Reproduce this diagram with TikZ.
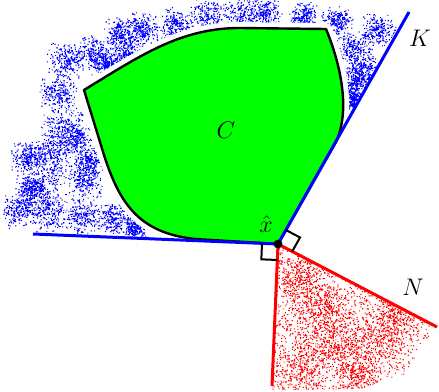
\documentclass[tikz,border=0pt]{standalone}
\usetikzlibrary{calc}

\definecolor{conjunto}{rgb}{0,1,0}
\definecolor{cone}{rgb}{0,0,1}
\definecolor{normal}{rgb}{1,0,0}

\begin{document}
\begin{tikzpicture}[x=0.5pt,y=-0.5pt]
        \useasboundingbox (0,0) rectangle (439,391);
        \pgfmathsetseed{42}

        \coordinate (xh) at (278,244);
        \coordinate (Kesq) at (33,234);
        \coordinate (Kdir) at (409,12);
        \coordinate (Nbaixo) at (272,386);
        \coordinate (Ndir) at (437,327);

        % pontos de K
        \begin{scope}
            \clip (xh) -- (0,232.7) -- (0,0) -- (415.8,0) -- cycle;
            \foreach \cx/\cy/\r in {65/60/14, 93/53/14, 105/62/11, 120/33/12, 128/53/13, 143/28/12,
                    175/25/13, 207/18/14, 240/17/14, 265/13/13, 303/17/11, 337/23/12, 378/30/13,
                    355/50/14, 355/83/12, 362/70/12, 350/100/9, 58/93/14, 63/127/16, 52/153/15,
                    27/157/12, 88/160/12, 43/183/16, 83/180/14, 20/210/13, 50/212/15, 83/215/14,
                    113/218/12, 135/227/9, 75/140/13, 30/190/11}
                \fill[cone] foreach \i in {1,...,230} {({\cx+0.7*\r*(rand+rand)},{\cy+0.7*\r*(rand+rand)}) rectangle ++(1.1,1.1)};
            % folga em volta de C
            \draw[white, line width=6pt, line join=round]
                (84,90) .. controls (140,56) and (180,28) .. (240,28) -- (326,29)
                .. controls (338,58) and (352,107) .. (336,142) -- (xh) -- (195,239)
                .. controls (140,233) and (120,205) .. (104,155) -- cycle;
        \end{scope}

        % pontos de N
        \begin{scope}
            \clip (xh) -- (272,390) -- (360,389) -- (405,374) -- (428,340) -- (432,325) -- cycle;
            \foreach \lote in {1,...,8}
                \fill[normal] foreach \i in {1,...,250} {({352+80*rand},{317+73*rand}) rectangle ++(1.1,1.1)};
            \foreach \cx/\cy/\r in {310/300/30, 320/345/30, 300/370/28, 345/350/30, 380/335/30,
                    395/315/25, 360/375/25, 330/310/28, 295/275/25}
                \fill[normal] foreach \i in {1,...,220} {({\cx+\r*(rand+rand)/2},{\cy+\r*(rand+rand)/2}) rectangle ++(1.1,1.1)};
        \end{scope}

        \filldraw[fill=conjunto, draw=black, line width=1.2pt, line join=round]
            (84,90) .. controls (140,56) and (180,28) .. (240,28) -- (326,29)
            .. controls (338,58) and (352,107) .. (336,142) -- (xh) -- (195,239)
            .. controls (140,233) and (120,205) .. (104,155) -- cycle;

        \draw[cone, line width=1.5pt] (Kesq) -- (xh) -- (Kdir);
        \draw[normal, line width=1.5pt] (Nbaixo) -- (xh) -- (Ndir);

        \coordinate (a1) at ($(xh)!8pt!(Kdir)$);
        \coordinate (a2) at ($(xh)!8pt!(Ndir)$);
        \coordinate (b1) at ($(xh)!8pt!(Kesq)$);
        \coordinate (b2) at ($(xh)!8pt!(Nbaixo)$);
        \draw[black, line width=1pt] (a1) -- ($(a1)+(a2)-(xh)$) -- (a2);
        \draw[black, line width=1pt] (b1) -- ($(b1)+(b2)-(xh)$) -- (b2);

        \filldraw[black] (xh) circle (2pt);

        \node (rotC) at (226,130) {\large $C$};
        \node (rotx) at (266,224) {\large $\hat{x}$};
        \node (rotK) at (420,38) {\large $K$};
        \node (rotN) at (413,287) {\large $N$};
    \end{tikzpicture}
\end{document}
